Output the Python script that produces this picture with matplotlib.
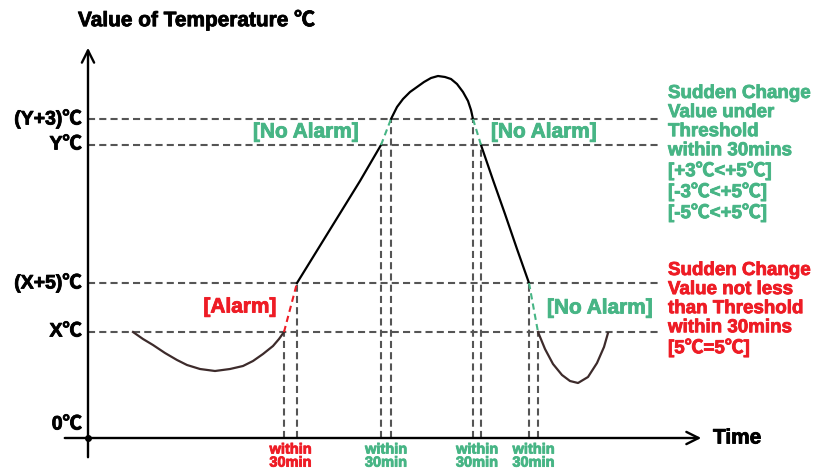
import matplotlib
matplotlib.use("Agg")

import matplotlib.pyplot as plt
import matplotlib.patheffects as pe

plt.rcParams["font.family"] = ["Liberation Sans", "Noto Sans CJK SC", "DejaVu Sans"]
plt.rcParams["font.weight"] = "bold"

GREEN = "#47b585"
RED = "#ee1c25"
GRAY = "#555555"

# ---- data (time units, temperature units) ----
level_names = ["(Y+3)℃", "Y℃", "(X+5)℃", "X℃", "0℃"]
level_values = [31.9, 29.3, 15.5, 10.6, 1.3]
X, X5, Y, Y3 = 10.6, 15.5, 29.3, 31.9

dip1_t = [4.5, 5.5, 6.5, 7.7, 8.9, 9.9, 11.2, 12.7, 14.2, 15.5, 16.5, 17.5, 18.5, 19.1, 19.6]
dip1_v = [10.6, 9.9, 9.3, 8.5, 7.8, 7.3, 6.9, 6.7, 6.9, 7.2, 7.7, 8.4, 9.2, 9.9, 10.6]

rise_t = [20.9, 23.0, 25.1, 27.2, 29.3]
rise_v = [15.5, 18.9, 22.3, 25.7, 29.3]

peak_t = [30.3, 30.9, 31.5, 32.2, 32.9, 33.6, 34.3, 35.0, 35.7, 36.3, 36.9, 37.5, 38.0, 38.3, 38.5]
peak_v = [31.9, 33.1, 33.9, 34.6, 35.1, 35.6, 36.0, 36.2, 36.1, 35.9, 35.4, 34.6, 33.7, 32.8, 31.9]

fall_t = [39.3, 40.5, 41.7, 42.9, 44.1]
fall_v = [29.3, 25.8, 22.4, 18.9, 15.5]

dip2_t = [45.0, 45.7, 46.5, 47.4, 48.2, 49.0, 50.0, 50.9, 51.6, 52.0]
dip2_v = [10.6, 8.9, 7.4, 6.3, 5.7, 5.5, 6.1, 7.5, 9.1, 10.5]

# 30 min windows: (start, end, value at start, value at end, alarm?)
windows = [
    (19.6, 20.9, X, X5, True),
    (29.3, 30.3, Y, Y3, False),
    (38.5, 39.3, Y3, Y, False),
    (44.1, 45.0, X5, X, False),
]


def heavy(color):
    return [pe.withStroke(linewidth=0.6, foreground=color)]


fig = plt.figure(figsize=(8.14, 4.70), dpi=100)
ax = fig.add_axes([0, 0, 1, 1])
ax.set_xlim(-8.8, 72.6)
ax.set_ylim(-3.2, 43.8)
ax.axis("off")

dash = (3.4, 2.0)

# horizontal reference lines
for v in [Y3, Y, X5, X]:
    ax.plot([0, 57.2], [v, v], color=GRAY, lw=1.5, dashes=dash, zorder=1)

# vertical window lines
for t0, t1, v0, v1, alarm in windows:
    ax.plot([t0, t0], [0, v0], color=GRAY, lw=1.5, dashes=dash, zorder=1)
    ax.plot([t1, t1], [0, v1], color=GRAY, lw=1.5, dashes=dash, zorder=1)
    c = RED if alarm else GREEN
    ax.plot([t0, t1], [v0, v1], color=c, lw=1.5, dashes=(3, 2), zorder=3)
    ax.text((t0 + t1) / 2, -0.45, "within\n30min", color=c, fontsize=10.5,
            ha="center", va="top", linespacing=0.92, path_effects=heavy(c))

# curve
ax.plot(dip1_t, dip1_v, color="#3d2b2b", lw=1.6, zorder=2)
ax.plot(rise_t, rise_v, color="black", lw=1.6, zorder=2)
ax.plot(peak_t, peak_v, color="black", lw=1.6, zorder=2)
ax.plot(fall_t, fall_v, color="black", lw=1.6, zorder=2)
ax.plot(dip2_t, dip2_v, color="#3d2b2b", lw=1.6, zorder=2)

# axes with arrows
ax.annotate("", xy=(0, 39.3), xytext=(0, -2.2),
            arrowprops=dict(arrowstyle="->", lw=1.7, color="black", mutation_scale=22))
ax.annotate("", xy=(61.6, 0), xytext=(-2.6, 0),
            arrowprops=dict(arrowstyle="->", lw=1.7, color="black", mutation_scale=22))
ax.plot([0], [0], "o", color="black", ms=4, zorder=5)

# labels
ax.text(-1.0, 41.8, "Value of Temperature ℃", fontsize=15, ha="left", va="center",
        path_effects=heavy("black"))
ax.text(62.5, 0, "Time", fontsize=15, ha="left", va="center", path_effects=heavy("black"))
for name, v in zip(level_names, level_values):
    ax.text(-0.6, v, name, fontsize=14, ha="right", va="center", path_effects=heavy("black"))

ax.text(21.8, 30.6, "[No Alarm]", color=GREEN, fontsize=15, ha="center", va="center",
        path_effects=heavy(GREEN))
ax.text(45.6, 30.6, "[No Alarm]", color=GREEN, fontsize=15, ha="center", va="center",
        path_effects=heavy(GREEN))
ax.text(15.2, 13.1, "[Alarm]", color=RED, fontsize=15, ha="center", va="center",
        path_effects=heavy(RED))
ax.text(51.2, 13.0, "[No Alarm]", color=GREEN, fontsize=15, ha="center", va="center",
        path_effects=heavy(GREEN))

ax.text(58.0, 35.3,
        "Sudden Change\nValue under\nThreshold\nwithin 30mins\n[+3℃<+5℃]\n[-3℃<+5℃]\n[-5℃<+5℃]",
        color=GREEN, fontsize=13.5, ha="left", va="top", linespacing=1.16,
        path_effects=heavy(GREEN))
ax.text(58.0, 17.6,
        "Sudden Change\nValue not less\nthan Threshold\nwithin 30mins\n[5℃=5℃]",
        color=RED, fontsize=13.5, ha="left", va="top", linespacing=1.16,
        path_effects=heavy(RED))

fig.savefig("out.png", dpi=100)
plt.close(fig)
